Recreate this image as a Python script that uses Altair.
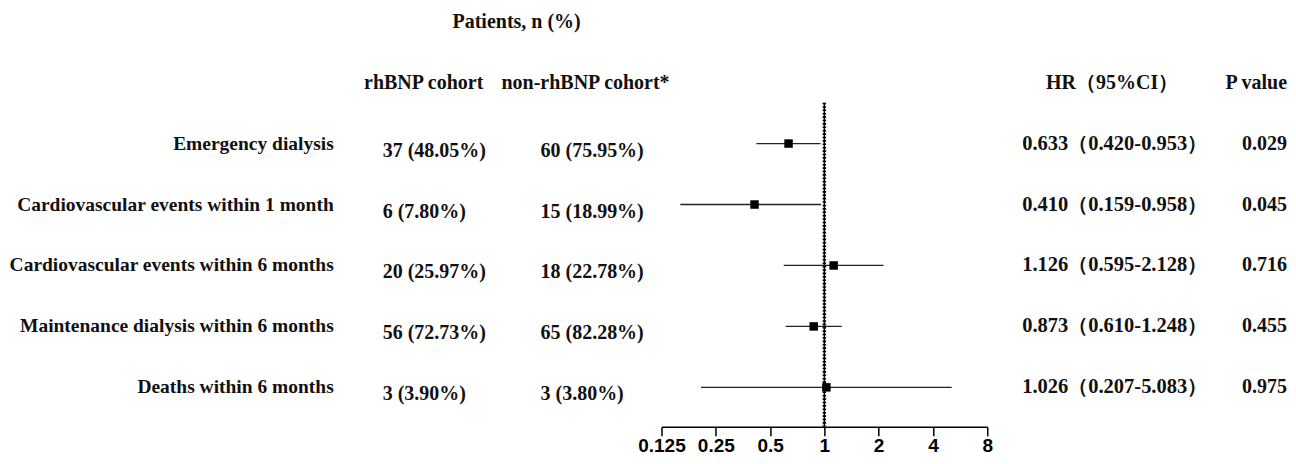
import altair as alt
import pandas as pd

# ---- data ----
outcomes = [
    "Emergency dialysis",
    "Cardiovascular events within 1 month",
    "Cardiovascular events within 6 months",
    "Maintenance dialysis within 6 months",
    "Deaths within 6 months",
]
rhbnp = ["37 (48.05%)", "6 (7.80%)", "20 (25.97%)", "56 (72.73%)", "3 (3.90%)"]
non_rhbnp = ["60 (75.95%)", "15 (18.99%)", "18 (22.78%)", "65 (82.28%)", "3 (3.80%)"]
hr = [0.633, 0.410, 1.126, 0.873, 1.026]
ci_low = [0.420, 0.159, 0.595, 0.610, 0.207]
ci_high = [0.953, 0.958, 2.128, 1.248, 5.083]
p_values = ["0.029", "0.045", "0.716", "0.455", "0.975"]
tick_values = [0.125, 0.25, 0.5, 1, 2, 4, 8]
rows = [1, 2, 3, 4, 5]

df = pd.DataFrame({
    "row": rows,
    "outcome": outcomes,
    "rhbnp": rhbnp,
    "non": non_rhbnp,
    "hr": hr,
    "lo": ci_low,
    "hi": ci_high,
    "hrtext": [f"{h:.3f}（{l:.3f}-{u:.3f}）" for h, l, u in zip(hr, ci_low, ci_high)],
    "p": p_values,
})

headers = pd.DataFrame({
    "row": [-1, 0, 0, 0, 0],
    "text": ["Patients, n (%)", "rhBNP cohort", "non-rhBNP cohort*", "HR（95%CI）", "P value"],
    "col": ["title", "rh", "non", "hr", "p"],
})
refline = pd.DataFrame({"x": [1.0], "y": [0.33], "y2": [5.64]})

FONT = "Liberation Serif"

yscale = alt.Scale(domain=[1, 5], range=[135.5, 379.5], nice=False, zero=False)
xscale = alt.Scale(type="log", base=2, domain=[0.125, 8], range=[653, 979], nice=False)
Y = alt.Y("row:Q", scale=yscale, axis=None)

base = alt.Chart(df)

def txt(field, xpos, align, size, dy=0):
    return base.mark_text(font=FONT, fontSize=size, fontWeight="bold", align=align,
                          baseline="middle", dy=dy, color="#111").encode(
        x=alt.value(xpos), y=Y, text=f"{field}:N")

labels = txt("outcome", 325, "right", 19.5)
col_rh = txt("rhbnp", 374, "left", 20, dy=7)
col_non = txt("non", 532, "left", 20, dy=7)
col_hr = txt("hrtext", 1014, "left", 20.5)
col_p = txt("p", 1279, "right", 20)

hdr = alt.Chart(headers)
def htxt(col, xpos, align):
    return hdr.transform_filter(alt.datum.col == col).mark_text(
        font=FONT, fontSize=20, fontWeight="bold", align=align, baseline="middle",
        color="#111").encode(x=alt.value(xpos), y=Y, text="text:N")

h_title = htxt("title", 508, "center")
h_rh = htxt("rh", 415, "center")
h_non = htxt("non", 577, "center")
h_hr = htxt("hr", 1104, "center")
h_p = htxt("p", 1279, "right")

rule_solid = alt.Chart(refline).mark_rule(color="black", strokeWidth=1.5).encode(
    x=alt.X("x:Q", scale=xscale,
            axis=alt.Axis(values=tick_values, format="~g", title=None, grid=False,
                          domainColor="black", domainWidth=1.5, tickColor="black",
                          tickWidth=1.5, tickSize=9, labelFont="Liberation Sans",
                          labelFontSize=19, labelFontWeight="bold", labelColor="black",
                          labelPadding=1, labelFlush=False, labelOverlap=False)),
    y=alt.Y("y:Q", scale=yscale, axis=None), y2="y2:Q")
rule_dots = alt.Chart(refline).mark_rule(color="black", strokeWidth=3.5,
                                         strokeDash=[1.6, 1.8]).encode(
    x=alt.X("x:Q", scale=xscale), y=alt.Y("y:Q", scale=yscale, axis=None), y2="y2:Q")

ci = base.mark_rule(color="#222", strokeWidth=1.3).encode(
    x=alt.X("lo:Q", scale=xscale), x2="hi:Q", y=Y)
pts = base.mark_square(color="black", size=72, opacity=1).encode(
    x=alt.X("hr:Q", scale=xscale), y=Y)

chart = alt.layer(
    rule_solid, rule_dots, ci, pts,
    labels, col_rh, col_non, col_hr, col_p,
    h_title, h_rh, h_non, h_hr, h_p,
).properties(width=1280, height=419, padding=0).configure_view(stroke=None)

chart.save("out.html", embed_options={"renderer": "svg", "actions": False})
